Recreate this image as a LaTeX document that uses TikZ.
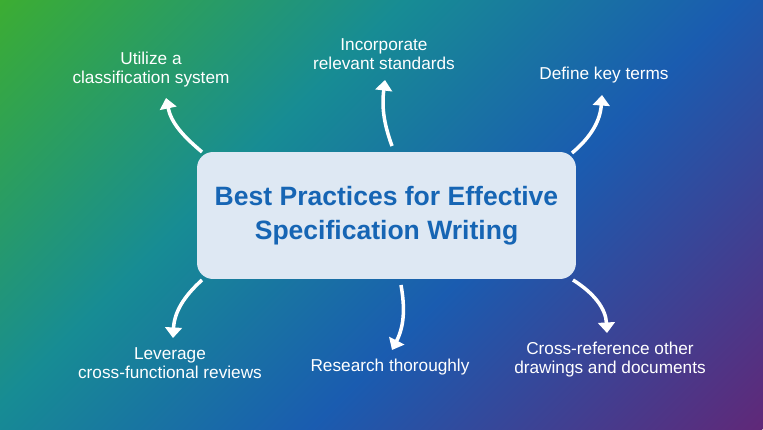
\documentclass[tikz,border=0pt]{standalone}
\usepackage{fontspec}
\setmainfont{Liberation Sans}
\usepackage{tikz}
\usetikzlibrary{arrows.meta,positioning}
\usepackage{xcolor}
\definecolor{bggreen}{RGB}{60,173,50}
\definecolor{bgteal}{RGB}{23,140,148}
\definecolor{bgblue}{RGB}{26,92,176}
\definecolor{bgpurple}{RGB}{96,40,120}
\definecolor{boxfill}{RGB}{222,232,243}
\definecolor{titleblue}{RGB}{22,101,180}
\pgfdeclarehorizontalshading{bgshade}{100bp}{color(0bp)=(bggreen); color(25bp)=(bggreen); color(42bp)=(bgteal); color(56bp)=(bgblue); color(75bp)=(bgpurple); color(100bp)=(bgpurple)}
\tikzstyle{curvearrow} = [line width=2pt,white,-{Triangle[width=9.5pt,length=6pt]}]
\tikzstyle{itemtext} = [text=white,align=center,font=\fontsize{9.8}{10.8}\selectfont]
\tikzstyle{mainbox} = [rounded corners=0.32cm,fill=boxfill,minimum width=7.58cm,minimum height=2.54cm,text=titleblue,align=center,font=\fontsize{15.1}{19.3}\selectfont\bfseries]

\begin{document}
\begin{tikzpicture}[x=0.02cm,y=0.02cm]
\useasboundingbox (0,0) rectangle (763,429);
% gradient background
\begin{scope}
\clip (0,0) rectangle (763,429);
\shade[shading=bgshade,transform canvas={rotate around={-45:(0,429)}}] (0,115) rectangle (843,980);
\end{scope}

% central box
\node[mainbox] (main) at (386.5,213.5) {Best Practices for Effective\\Specification Writing};

% practices
\node[itemtext] (utilize) at (151,359.5) {Utilize a\\classification system};
\node[itemtext] (incorporate) at (384,374.5) {Incorporate\\relevant standards};
\node[itemtext] (define) at (604,354) {Define key terms};
\node[itemtext] (leverage) at (170,65.5) {Leverage\\cross-functional reviews};
\node[itemtext] (research) at (390,62) {Research thoroughly};
\node[itemtext] (crossref) at (610,69.5) {Cross-reference other\\drawings and documents};

% arrow ends
\coordinate (s1) at (202,277);
\coordinate (t1) at (166,331);
\coordinate (s2) at (392,283);
\coordinate (t2) at (385,349);
\coordinate (s3) at (572,276);
\coordinate (t3) at (602,334);
\coordinate (s4) at (202,149);
\coordinate (t4) at (173,91);
\coordinate (s5) at (401,144);
\coordinate (t5) at (392,79);
\coordinate (s6) at (573,149);
\coordinate (t6) at (607,96);

% arrows
\draw[curvearrow] (s1) to[out=140,in=-78] (t1);
\draw[curvearrow] (s2) to[out=110,in=-97] (t2);
\draw[curvearrow] (s3) to[out=40,in=-94] (t3);
\draw[curvearrow] (s4) to[out=-138,in=87] (t4);
\draw[curvearrow] (s5) to[out=-80,in=63] (t5);
\draw[curvearrow] (s6) to[out=-32,in=93] (t6);
\end{tikzpicture}
\end{document}
